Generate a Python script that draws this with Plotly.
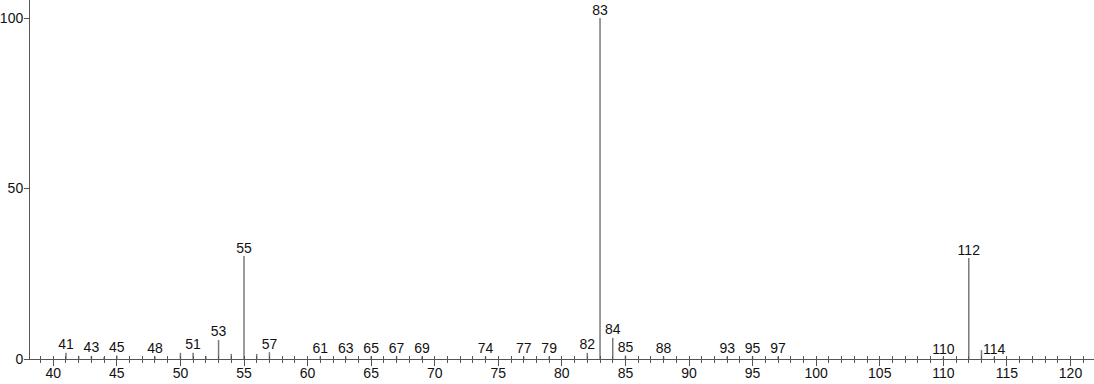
import plotly.graph_objects as go

# m/z values and relative intensities (%)
mz = [41, 42, 43, 44, 45, 48, 50, 51, 52, 53, 54, 55, 56, 57,
      61, 63, 65, 67, 69, 74, 77, 79, 82, 83, 84, 85, 88,
      93, 95, 97, 110, 112, 113, 114]
intensity = [1.8, 0.9, 0.9, 0.6, 1.0, 0.7, 1.8, 1.8, 0.9, 5.6, 1.5, 30.2, 1.5, 2.0,
             0.8, 0.8, 0.8, 0.8, 0.7, 0.7, 0.7, 0.7, 1.8, 100.0, 6.2, 1.0, 0.7,
             0.7, 0.8, 0.7, 0.5, 29.6, 2.6, 0.5]

labeled = [41, 43, 45, 48, 51, 53, 55, 57, 61, 63, 65, 67, 69, 74, 77, 79,
           82, 83, 84, 85, 88, 93, 95, 97, 110, 112, 114]

x_ticks = list(range(40, 121, 5))
y_ticks = [0, 50, 100]

FONT = "Liberation Sans, Arial, sans-serif"
LINE = "#7a7a7a"
AXIS = "#555555"
TEXT = "#111111"

xs, ys = [], []
for m, v in zip(mz, intensity):
    xs += [m, m, None]
    ys += [0, v, None]

fig = go.Figure()
fig.add_trace(go.Scatter(x=xs, y=ys, mode="lines",
                         line=dict(color=LINE, width=1.5),
                         hoverinfo="skip", showlegend=False))

lab_x = [m for m in mz if m in labeled]
lab_y = [v for m, v in zip(mz, intensity) if m in labeled]
fig.add_trace(go.Scatter(x=lab_x, y=lab_y, mode="text",
                         text=[str(m) for m in lab_x],
                         textposition="top center",
                         textfont=dict(family=FONT, size=14, color=TEXT),
                         showlegend=False, hoverinfo="skip"))

# invisible trace to bring up overlay axis for inside minor ticks
fig.add_trace(go.Scatter(x=[40], y=[0], xaxis="x2", mode="markers",
                         marker=dict(opacity=0), showlegend=False, hoverinfo="skip"))

xr = [38.17, 121.85]
fig.update_layout(
    width=1094, height=384,
    margin=dict(l=30, r=0, t=0, b=25),
    paper_bgcolor="white", plot_bgcolor="white",
    font=dict(family=FONT, size=14, color=TEXT),
    xaxis=dict(range=xr, tickvals=x_ticks, ticktext=[str(t) for t in x_ticks],
               ticks="outside", ticklen=6, tickwidth=1, tickcolor=AXIS,
               ticklabelstandoff=-5,
               minor=dict(dtick=1, tick0=0, ticks="outside", ticklen=3, tickcolor=AXIS),
               showline=True, linecolor=AXIS, linewidth=1, automargin=False,
               showgrid=False, zeroline=False, fixedrange=True,
               tickfont=dict(family=FONT, size=14, color=TEXT)),
    xaxis2=dict(range=xr, overlaying="x", anchor="y", side="bottom",
                ticks="inside", tickmode="linear", tick0=0, dtick=1, ticklen=3,
                tickcolor=AXIS, showticklabels=False, showline=False, automargin=False,
                showgrid=False, zeroline=False),
    yaxis=dict(range=[0, 105.3], tickvals=y_ticks,
               ticks="outside", ticklen=5, tickcolor=AXIS, automargin=False,
               ticklabelstandoff=-2,
               showline=True, linecolor=AXIS, linewidth=1,
               showgrid=False, zeroline=False, fixedrange=True,
               tickfont=dict(family=FONT, size=14, color=TEXT)),
)

fig.write_html("out.html")
